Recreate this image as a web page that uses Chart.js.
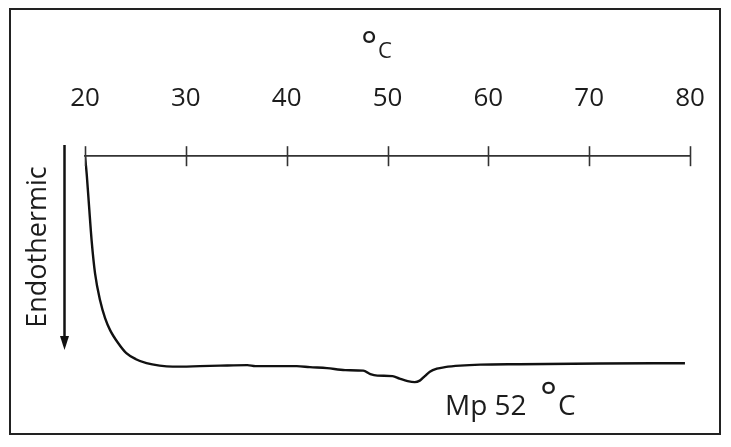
<!DOCTYPE html>
<html>
<head>
<meta charset="utf-8">
<script src="https://cdn.jsdelivr.net/npm/chart.js@4.4.0/dist/chart.umd.min.js"></script>
<style>
  html, body { margin: 0; padding: 0; background: #fff; overflow: hidden; }
  #wrap { width: 731px; height: 447px; position: relative; }
</style>
</head>
<body>
<div id="wrap"><canvas id="dsc"></canvas></div>
<script>
// DSC trace (temperature in °C, heat flow in arbitrary units, endothermic down)
const temps = [20, 20.17, 20.4, 20.66, 21.0, 21.5, 22.0, 22.5, 23.3, 24.1, 25.05, 26.1, 27.4, 28.7,
  31.4, 33.4, 36.1, 36.9, 41.0, 42.3, 44.0, 45.8, 47.6, 48.3, 49.0, 50.5, 51.2, 52.0, 52.7,
  53.2, 53.7, 54.2, 54.9, 55.7, 57.2, 59.2, 63.1, 71.1, 79.5];
const heatFlow = [0, -1.8, -5.0, -8.5, -11.8, -14.5, -16.3, -17.5, -18.8, -19.8, -20.4, -20.8, -21.05, -21.15,
  -21.1, -21.05, -21.0, -21.1, -21.1, -21.2, -21.3, -21.5, -21.55, -21.9, -22.05, -22.1, -22.35, -22.6, -22.7,
  -22.55, -22.1, -21.65, -21.35, -21.2, -21.05, -20.95, -20.9, -20.83, -20.8];
const xTicks = [20, 30, 40, 50, 60, 70, 80];

const axisTitle = 'C';
const yLabel = 'Endothermic';
const peakLabel = 'Mp 52';

const ink = '#1c1c1c';
const FONT = '"Open Sans", "Noto Sans", sans-serif';

// draws the tick marks across the axis line, the frame and all loose text
const decorations = {
  id: 'decorations',
  afterDraw(chart) {
    const ctx = chart.ctx;
    const xs = chart.scales.x;
    const top = chart.chartArea.top;
    ctx.save();

    ctx.strokeStyle = '#333';
    ctx.lineWidth = 1.6;
    xTicks.forEach(v => {
      const px = Math.round(xs.getPixelForValue(v)) + 0.5;
      ctx.beginPath();
      ctx.moveTo(px, top - 10);
      ctx.lineTo(px, top + 10);
      ctx.stroke();
    });

    // frame
    ctx.strokeStyle = '#222';
    ctx.lineWidth = 2;
    ctx.strokeRect(10, 9, 710, 425);

    ctx.fillStyle = ink;
    ctx.textBaseline = 'alphabetic';
    ctx.textAlign = 'left';

    // axis title
    ctx.font = '38px ' + FONT;
    ctx.fillText('°', 361, 59);
    ctx.font = '22px ' + FONT;
    ctx.fillText(axisTitle, 378, 58);

    // melting point note
    ctx.font = '28px ' + FONT;
    ctx.fillText(peakLabel, 445, 415);
    ctx.font = '40px ' + FONT;
    ctx.fillText('°', 540, 411);
    ctx.font = '28px ' + FONT;
    ctx.fillText('C', 558, 415);

    // endothermic label and arrow
    ctx.save();
    ctx.translate(38, 247);
    ctx.rotate(-Math.PI / 2);
    ctx.textAlign = 'center';
    ctx.textBaseline = 'middle';
    ctx.font = '27px ' + FONT;
    ctx.fillText(yLabel, 0, 0);
    ctx.restore();

    ctx.strokeStyle = '#111';
    ctx.lineWidth = 2.5;
    ctx.beginPath();
    ctx.moveTo(64.5, 145);
    ctx.lineTo(64.5, 338);
    ctx.stroke();
    ctx.fillStyle = '#111';
    ctx.beginPath();
    ctx.moveTo(60, 336);
    ctx.lineTo(69, 336);
    ctx.lineTo(64.5, 350);
    ctx.closePath();
    ctx.fill();

    ctx.restore();
  }
};

new Chart(document.getElementById('dsc'), {
  type: 'line',
  data: {
    datasets: [{
      data: temps.map((t, i) => ({ x: t, y: heatFlow[i] })),
      borderColor: '#111',
      borderWidth: 2.4,
      pointRadius: 0,
      cubicInterpolationMode: 'monotone',
      fill: false
    }]
  },
  options: {
    responsive: true,
    maintainAspectRatio: false,
    animation: false,
    events: [],
    layout: { padding: { left: 85, right: 41, top: 78, bottom: 47 } },
    plugins: { legend: { display: false }, tooltip: { enabled: false } },
    scales: {
      x: {
        type: 'linear',
        position: 'top',
        min: 20,
        max: 80,
        afterBuildTicks: scale => { scale.ticks = xTicks.map(v => ({ value: v })); },
        ticks: {
          color: ink,
          padding: 5,
          maxRotation: 0,
          font: { family: FONT, size: 26 }
        },
        grid: {
          display: true,
          drawOnChartArea: false,
          drawTicks: true,
          tickLength: 37,
          tickColor: 'rgba(0,0,0,0)'
        },
        border: { display: true, color: '#333', width: 1.8 }
      },
      y: {
        display: false,
        min: -24.5,
        max: 0
      }
    }
  },
  plugins: [decorations]
});
</script>
</body>
</html>
